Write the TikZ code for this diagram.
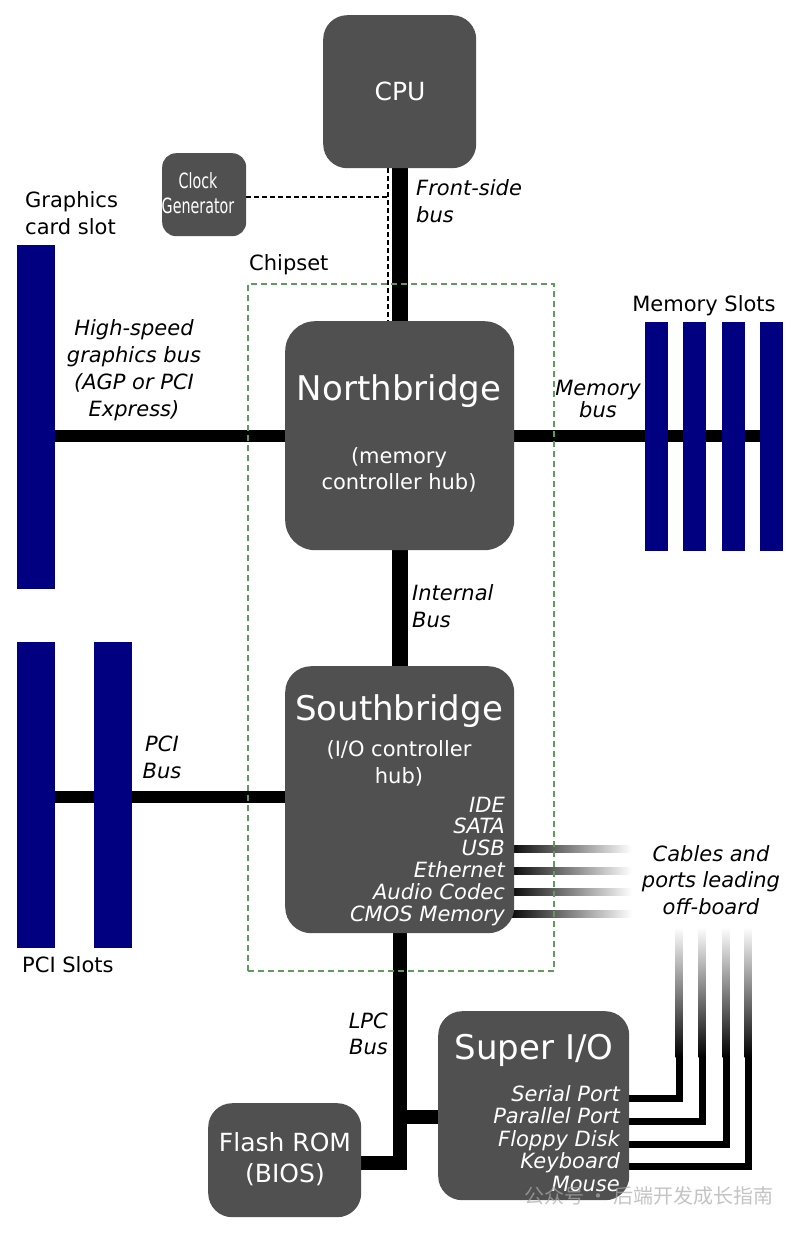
\documentclass[tikz,border=0pt]{standalone}
\usepackage{fontspec}
\setmainfont{DejaVu Sans}
\newfontfamily\cjkfont{Noto Sans CJK SC}
\usetikzlibrary{backgrounds,calc}
\definecolor{boxgray}{RGB}{80,80,80}
\definecolor{slotblue}{RGB}{0,0,128}
\definecolor{chipgreen}{RGB}{95,155,95}
\definecolor{wmgray}{RGB}{170,170,170}
\begin{document}
\begin{tikzpicture}[x=1pt,y=-1pt,
  chip/.style={fill=boxgray, draw=none, rounded corners=24pt, inner sep=0pt, anchor=north west},
  slot/.style={fill=slotblue, draw=none, inner sep=0pt, anchor=north west},
  intext/.style={text=white, inner sep=0pt, anchor=base, align=center},
  lbl/.style={inner sep=0pt, font=\fontsize{21}{27}\selectfont},
  ilbl/.style={inner sep=0pt, font=\fontsize{21}{27}\selectfont\itshape},
  bus/.style={line width=#1, draw=black, line join=miter},
  cable/.style={line width=7pt, draw=black, line join=miter},
]
\useasboundingbox (0,0) rectangle (800,1233);

% ---------- chips ----------
\node[chip, minimum width=153pt, minimum height=153pt] (cpu) at (323,15) {};
\node[chip, rounded corners=14pt, minimum width=84pt, minimum height=83pt] (clk) at (162,153) {};
\node[chip, rounded corners=30pt, minimum width=229pt, minimum height=229pt] (nb) at (285,321) {};
\node[chip, rounded corners=26pt, minimum width=229pt, minimum height=267pt] (sb) at (285,666) {};
\node[chip, minimum width=153pt, minimum height=114pt] (flash) at (208,1103) {};
\node[chip, minimum width=191pt, minimum height=189pt] (sio) at (438,1011) {};

% ---------- slots ----------
\node[slot, minimum width=38pt, minimum height=344pt] (gfx) at (17,245) {};
\node[slot, minimum width=38pt, minimum height=306pt] (pci1) at (17,642) {};
\node[slot, minimum width=38pt, minimum height=306pt] (pci2) at (94,642) {};
\node[slot, minimum width=23pt, minimum height=229pt] (mem1) at (645,322) {};
\node[slot, minimum width=23pt, minimum height=229pt] (mem2) at (683,322) {};
\node[slot, minimum width=23pt, minimum height=229pt] (mem3) at (722,322) {};
\node[slot, minimum width=23pt, minimum height=229pt] (mem4) at (760,322) {};

% ---------- chipset frame ----------
\node[draw=chipgreen, line width=1.5pt, dash pattern=on 6pt off 4pt, inner sep=0pt,
      minimum width=306pt, minimum height=687pt, anchor=north west] (chipset) at (247,283) {};

% ---------- helper coordinates ----------
\coordinate (fsbtap) at (388,197);
\coordinate (lpcjoin) at (400,1117);
\coordinate (c1) at (632,849);
\coordinate (c2) at (632,871);
\coordinate (c3) at (632,892);
\coordinate (c4) at (632,914);
\coordinate (p1) at (679,1098);
\coordinate (p2) at (702,1121);
\coordinate (p3) at (726,1144);
\coordinate (p4) at (748,1166);
\coordinate (fadetop) at (0,927);
\coordinate (fadebot) at (0,1057);

% ---------- buses (behind) ----------
\begin{pgfonlayer}{background}
  \draw[bus=16pt] (cpu.south) -- (nb.north);
  \draw[bus=16pt] (nb.south) -- (sb.north);
  \draw[bus=12pt] (nb.west) -- (nb.west -| gfx.east);
  \draw[bus=12pt] (nb.east) -- (nb.east -| mem4.west);
  \draw[bus=12pt] ($(sb.west)+(0,-3)$) -- ($(sb.west -| pci1.east)+(0,-3)$);
  \draw[bus=14pt] (sb.south) -- ($(sb.south |- flash.east)+(0,3)$) -- ($(flash.east)+(0,3)$);
  \draw[bus=14pt] (lpcjoin) -- (lpcjoin -| sio.west);
  % clock lines
  \draw[line width=1.5pt, dash pattern=on 5pt off 3pt] (clk.east |- fsbtap) -- (fsbtap);
  \draw[line width=1.5pt, dash pattern=on 5pt off 3pt] (cpu.south -| fsbtap) -- (nb.north -| fsbtap);
  % southbridge cables
  \foreach \c in {c1,c2,c3,c4}{
    \shade[left color=black, right color=white]
      ($(sb.east |- \c)+(-8,-3.5)$) rectangle ($(\c)+(0,3.5)$);
  }
  % super I/O cables
  \foreach \p in {p1,p2,p3,p4}{
    \draw[cable] ($(\p -| sio.east)+(-5,0)$) -- (\p) -- (\p |- fadebot);
    \shade[top color=white, bottom color=black]
      ($(\p |- fadetop)+(-3.5,0)$) rectangle ($(\p |- fadebot)+(3.5,0.5)$);
  }
\end{pgfonlayer}

% ---------- texts in chips (multi-line nodes: base = last line) ----------
\node[intext, font=\fontsize{25}{30}\selectfont] (cput) at (400,101) {CPU};
\node[intext, font=\fontsize{21}{25}\selectfont] (clkt) at (198,214)
  {\scalebox{0.68}[1]{Clock}\\\scalebox{0.68}[1]{Generator}};
\node[intext, font=\fontsize{34}{40}\selectfont] (nbt) at (399,400) {Northbridge};
\node[intext, font=\fontsize{21}{26}\selectfont] (nbs) at (399,489) {(memory\\controller hub)};
\node[intext, font=\fontsize{34}{40}\selectfont] (sbt) at (399,720) {Southbridge};
\node[intext, font=\fontsize{21}{27}\selectfont] (sbs) at (399,783) {(I/O controller\\hub)};
\node[text=white, inner sep=0pt, anchor=base east, align=right,
      font=\fontsize{21}{21.8}\selectfont\itshape] (sbl) at (505,921)
  {IDE\\SATA\\USB\\Ethernet\\Audio Codec\\CMOS Memory};
\node[intext, font=\fontsize{25}{31}\selectfont] (flasht) at (285,1182) {Flash ROM\\(BIOS)};
\node[intext, font=\fontsize{34}{40}\selectfont] (siot) at (534,1059) {Super I/O};
\node[text=white, inner sep=0pt, anchor=base east, align=right,
      font=\fontsize{21}{22.5}\selectfont\itshape] (siol) at (620,1191)
  {Serial Port\\Parallel Port\\Floppy Disk\\Keyboard\\Mouse};

% ---------- labels ----------
\node[ilbl, anchor=base west, align=left] (fsbl) at (416,223) {Front-side\\bus};
\node[lbl, anchor=base west, align=left] (gfxl) at (25,235) {Graphics\\card slot};
\node[lbl, anchor=base west] (chipl) at (249,270) {Chipset};
\node[ilbl, anchor=base, align=center] (hsl) at (134,416) {High-speed\\graphics bus\\(AGP or PCI\\Express)};
\node[lbl, anchor=base] (meml) at (704,311) {Memory Slots};
\node[ilbl, anchor=base, align=center, font=\fontsize{21}{22}\selectfont\itshape] (membl) at (598,417) {Memory\\bus};
\node[ilbl, anchor=base west, align=left] (intl) at (412,627) {Internal\\Bus};
\node[ilbl, anchor=base, align=center] (pcibl) at (162,778) {PCI\\Bus};
\node[lbl, anchor=base west] (pcil) at (22,972) {PCI Slots};
\node[ilbl, anchor=base, align=center, font=\fontsize{21}{26.5}\selectfont\itshape] (cabl) at (711,914) {Cables and\\ports leading\\off-board};
\node[ilbl, anchor=base east, align=right, font=\fontsize{21}{26}\selectfont\itshape] (lpcl) at (388,1054) {LPC\\Bus};

% ---------- watermark ----------
\node[inner sep=0pt, anchor=base west, text=wmgray, text opacity=0.7,
      font=\fontsize{20}{22}\cjkfont] (wm) at (524,1203) {公众号 · 后端开发成长指南};
\end{tikzpicture}
\end{document}
